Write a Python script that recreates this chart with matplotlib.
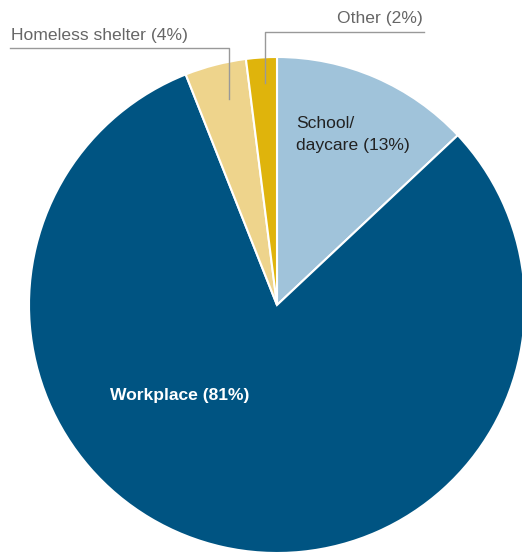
import matplotlib
matplotlib.use("Agg")
import matplotlib.pyplot as plt

# Share of cases by setting
categories = ["School/\ndaycare", "Workplace", "Homeless shelter", "Other"]
shares = [13, 81, 4, 2]
colors = ["#a0c3da", "#005482", "#eed48c", "#dfb40c"]

plt.rcParams["font.family"] = ["Liberation Sans", "DejaVu Sans"]

W, H = 522, 552
fig = plt.figure(figsize=(W / 100, H / 100), dpi=100)
ax = fig.add_axes([0, 0, 1, 1])

cx, cy, r = 277, 247, 248
ax.pie(shares, colors=colors, startangle=90, counterclock=False,
       center=(cx, cy), radius=r, frame=True,
       wedgeprops=dict(edgecolor="white", linewidth=1.5))
ax.set_xlim(0, W)
ax.set_ylim(0, H)
ax.set_aspect("equal")
ax.axis("off")

fs = 12.6

# Labels inside the large slices
school_lines = categories[0].split("\n")
ax.text(296, H - 128, school_lines[0], ha="left", va="baseline",
        fontsize=fs, color="#222222")
ax.text(296, H - 150, f"{school_lines[1]} ({shares[0]}%)", ha="left",
        va="baseline", fontsize=fs, color="#222222")
ax.text(110, H - 400, f"{categories[1]} ({shares[1]}%)", ha="left",
        va="baseline", fontsize=fs, color="white", fontweight="bold")

# Callouts for the thin slices
gray = "#999999"
ax.plot([10, 229, 229], [H - 48, H - 48, H - 99], color=gray, lw=1)
ax.text(11, H - 40, f"{categories[2]} ({shares[2]}%)", ha="left",
        va="baseline", fontsize=fs, color="#666666")
ax.plot([424, 265, 265], [H - 32, H - 32, H - 83], color=gray, lw=1)
ax.text(423, H - 23, f"{categories[3]} ({shares[3]}%)", ha="right",
        va="baseline", fontsize=fs, color="#666666")

fig.savefig("out.png", dpi=100)
